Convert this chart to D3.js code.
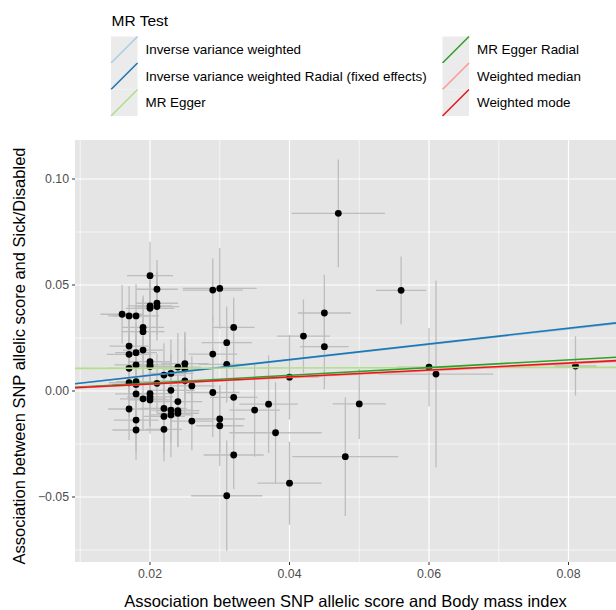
<!DOCTYPE html>
<html>
<head>
<meta charset="utf-8">
<script src="https://cdn.jsdelivr.net/npm/d3@7"></script>
<style>
  body { margin: 0; background: #fff; }
  svg { display: block; font-family: "Liberation Sans", Arial, sans-serif; }
</style>
</head>
<body>
<script>
// SNP effects on exposure (BMI) and outcome (Sick/Disabled)
const betaExposure = [
  0.016,
  0.017, 0.017, 0.017, 0.017, 0.017, 0.017,
  0.018, 0.018, 0.018, 0.018, 0.018, 0.018, 0.018, 0.018,
  0.019, 0.019, 0.019, 0.019,
  0.020, 0.020, 0.020, 0.020, 0.020, 0.020, 0.020, 0.020, 0.020,
  0.021, 0.021, 0.021, 0.021,
  0.022, 0.022, 0.022, 0.022,
  0.023, 0.023, 0.023, 0.023,
  0.024, 0.024, 0.024, 0.024,
  0.025, 0.025, 0.025,
  0.026, 0.026,
  0.029, 0.029, 0.029,
  0.030, 0.030, 0.030,
  0.031, 0.031, 0.031,
  0.032, 0.032, 0.032,
  0.035, 0.037, 0.038,
  0.040, 0.040,
  0.042,
  0.045, 0.045,
  0.047, 0.048, 0.050, 0.056, 0.060, 0.061, 0.081
];
const betaOutcome = [
  0.0362,
  0.0354, 0.0212, 0.0173, 0.0107, 0.0039, -0.0085,
  0.0354, 0.0181, 0.0123, 0.0044, 0.0031, -0.0014, -0.0137, -0.0184,
  0.0300, 0.0280, 0.0193, -0.0037,
  0.0544, 0.0402, 0.0390, 0.0138, 0.0123, 0.0115, -0.0012, -0.0028, -0.0042,
  0.0480, 0.0414, 0.0398, 0.0036,
  0.0075, -0.0082, -0.0120, -0.0181,
  0.0083, 0.0003, -0.0090, -0.0113,
  0.0113, -0.0050, -0.0093, -0.0105,
  0.0129, 0.0104, 0.0048,
  0.0024, -0.0142,
  0.0476, 0.0174, -0.0007,
  0.0484, -0.0132, -0.0164,
  0.0228, 0.0126, -0.0494,
  0.0300, -0.0030, -0.0302,
  -0.0090, -0.0062, -0.0197,
  0.0065, -0.0435,
  0.0259,
  0.0368, 0.0209,
  0.0838, -0.0310, -0.0061, 0.0475, 0.0112, 0.0080, 0.0118
];
const seExposure = [
  0.0031,
  0.0030, 0.0028, 0.0032, 0.0030, 0.0029, 0.0030,
  0.0033, 0.0030, 0.0031, 0.0029, 0.0034, 0.0030, 0.0032, 0.0034,
  0.0030, 0.0031, 0.0029, 0.0033,
  0.0033, 0.0032, 0.0035, 0.0030, 0.0031, 0.0036, 0.0030, 0.0033, 0.0031,
  0.0030, 0.0030, 0.0032, 0.0034,
  0.0031, 0.0033, 0.0030, 0.0026,
  0.0032, 0.0034, 0.0030, 0.0031,
  0.0033, 0.0035, 0.0031, 0.0030,
  0.0034, 0.0032, 0.0036,
  0.0033, 0.0031,
  0.0043, 0.0035, 0.0038,
  0.0053, 0.0036, 0.0034,
  0.0036, 0.0040, 0.0051,
  0.0030, 0.0034, 0.0043,
  0.0036, 0.0042, 0.0066,
  0.0042, 0.0046,
  0.0038,
  0.0038, 0.0035,
  0.0067, 0.0076, 0.0038, 0.0036, 0.0045, 0.0082, 0.0030
];
const seOutcome = [
  0.0138,
  0.0140, 0.0150, 0.0160, 0.0150, 0.0160, 0.0146,
  0.0150, 0.0140, 0.0155, 0.0150, 0.0160, 0.0140, 0.0150, 0.0140,
  0.0150, 0.0160, 0.0140, 0.0150,
  0.0160, 0.0150, 0.0140, 0.0160, 0.0150, 0.0170, 0.0150, 0.0140, 0.0160,
  0.0138, 0.0150, 0.0160, 0.0140,
  0.0150, 0.0160, 0.0170, 0.0150,
  0.0160, 0.0170, 0.0150, 0.0200,
  0.0160, 0.0150, 0.0170, 0.0160,
  0.0150, 0.0170, 0.0160,
  0.0140, 0.0137,
  0.0150, 0.0180, 0.0210,
  0.0190, 0.0160, 0.0190,
  0.0170, 0.0180, 0.0260,
  0.0140, 0.0190, 0.0160,
  0.0220, 0.0230, 0.0240,
  0.0200, 0.0196,
  0.0173,
  0.0180, 0.0200,
  0.0254, 0.0280, 0.0165, 0.0160, 0.0185, 0.0440, 0.0140
];

// MR methods: fitted lines (intercept + slope * x)
const methodNames = [
  "Inverse variance weighted",
  "Inverse variance weighted Radial (fixed effects)",
  "MR Egger",
  "MR Egger Radial",
  "Weighted median",
  "Weighted mode"
];
const methodIntercepts = [0, 0, 0.0106, 0.0001, 0, 0];
const methodSlopes = [0.366, 0.370, 0.0064, 0.182, 0.160, 0.165];

// axis ticks
const xMajorTicks = [0.02, 0.04, 0.06, 0.08];
const xMinorTicks = [0.01, 0.03, 0.05, 0.07];
const yMajorTicks = [-0.05, 0, 0.05, 0.10];
const yMinorTicks = [-0.075, -0.025, 0.025, 0.075];
const yTickLabels = ["\u22120.05", "0.00", "0.05", "0.10"];
const xTickLabels = ["0.02", "0.04", "0.06", "0.08"];

document.addEventListener("DOMContentLoaded", function() {

    /* CONSTANTS */
    const width = 616;
    const height = 610;
    const panel = {left: 75, right: 616, top: 140, bottom: 562};
    const methodColors = ["#A6CEE3", "#1F78B4", "#B2DF8A", "#33A02C", "#FB9A99", "#E31A1C"];
    const errColor = "#bdbdbd";

    const svg = d3.select("body").append("svg")
    .attr("width", width)
    .attr("height", height);

    //Scales are pinned to where the ticks sit in the picture.
    const x = d3.scaleLinear().domain([0.02, 0.08]).range([150, 568.5]);
    const y = d3.scaleLinear().domain([0, 0.10]).range([391, 179]);

    const points = betaExposure.map((bx, i) => ({
        bx: bx, by: betaOutcome[i], sx: seExposure[i], sy: seOutcome[i]
    }));

    /* PANEL */
    svg.append("defs").append("clipPath").attr("id", "clip")
    .append("rect")
    .attr("x", panel.left).attr("y", panel.top)
    .attr("width", panel.right - panel.left).attr("height", panel.bottom - panel.top);

    svg.append("rect")
    .attr("x", panel.left).attr("y", panel.top)
    .attr("width", panel.right - panel.left).attr("height", panel.bottom - panel.top)
    .attr("fill", "#e5e5e5");

    const grid = svg.append("g").attr("clip-path", "url(#clip)");

    grid.selectAll(".xminor").data(xMinorTicks).enter().append("line")
    .attr("x1", (d) => x(d)).attr("x2", (d) => x(d))
    .attr("y1", panel.top).attr("y2", panel.bottom)
    .attr("stroke", "#fff").attr("stroke-width", 0.6);

    grid.selectAll(".yminor").data(yMinorTicks).enter().append("line")
    .attr("y1", (d) => y(d)).attr("y2", (d) => y(d))
    .attr("x1", panel.left).attr("x2", panel.right)
    .attr("stroke", "#fff").attr("stroke-width", 0.6);

    grid.selectAll(".xmajor").data(xMajorTicks).enter().append("line")
    .attr("x1", (d) => x(d)).attr("x2", (d) => x(d))
    .attr("y1", panel.top).attr("y2", panel.bottom)
    .attr("stroke", "#fff").attr("stroke-width", 1.2);

    grid.selectAll(".ymajor").data(yMajorTicks).enter().append("line")
    .attr("y1", (d) => y(d)).attr("y2", (d) => y(d))
    .attr("x1", panel.left).attr("x2", panel.right)
    .attr("stroke", "#fff").attr("stroke-width", 1.2);

    /* ERROR BARS AND POINTS */
    const marks = svg.append("g").attr("clip-path", "url(#clip)");

    marks.selectAll(".vbar").data(points).enter().append("line")
    .attr("x1", (d) => x(d.bx)).attr("x2", (d) => x(d.bx))
    .attr("y1", (d) => y(d.by - d.sy)).attr("y2", (d) => y(d.by + d.sy))
    .attr("stroke", errColor).attr("stroke-width", 1.3);

    marks.selectAll(".hbar").data(points).enter().append("line")
    .attr("y1", (d) => y(d.by)).attr("y2", (d) => y(d.by))
    .attr("x1", (d) => x(d.bx - d.sx)).attr("x2", (d) => x(d.bx + d.sx))
    .attr("stroke", errColor).attr("stroke-width", 1.3);

    marks.selectAll("circle").data(points).enter().append("circle")
    .attr("cx", (d) => x(d.bx)).attr("cy", (d) => y(d.by))
    .attr("r", 3.4)
    .attr("fill", "#000");

    //Method lines span the whole panel, like abline.
    const x0 = x.invert(panel.left);
    const x1 = x.invert(panel.right);
    marks.selectAll(".mline").data(methodNames).enter().append("line")
    .attr("x1", panel.left).attr("x2", panel.right)
    .attr("y1", (d, i) => y(methodIntercepts[i] + methodSlopes[i] * x0))
    .attr("y2", (d, i) => y(methodIntercepts[i] + methodSlopes[i] * x1))
    .attr("stroke", (d, i) => methodColors[i])
    .attr("stroke-width", 1.6);

    /* AXES */
    const axisText = "#4d4d4d";
    const axisTick = "#333";

    svg.selectAll(".ytick").data(yMajorTicks).enter().append("line")
    .attr("x1", panel.left - 3).attr("x2", panel.left)
    .attr("y1", (d) => y(d)).attr("y2", (d) => y(d))
    .attr("stroke", axisTick).attr("stroke-width", 1);

    svg.selectAll(".ylabel").data(yMajorTicks).enter().append("text")
    .attr("x", panel.left - 6)
    .attr("y", (d) => y(d) + 4.3)
    .attr("text-anchor", "end")
    .attr("font-size", "12.3px")
    .attr("fill", axisText)
    .text((d, i) => yTickLabels[i]);

    svg.selectAll(".xtick").data(xMajorTicks).enter().append("line")
    .attr("x1", (d) => x(d)).attr("x2", (d) => x(d))
    .attr("y1", panel.bottom).attr("y2", panel.bottom + 3)
    .attr("stroke", axisTick).attr("stroke-width", 1);

    svg.selectAll(".xlabel").data(xMajorTicks).enter().append("text")
    .attr("x", (d) => x(d))
    .attr("y", panel.bottom + 16)
    .attr("text-anchor", "middle")
    .attr("font-size", "12.3px")
    .attr("fill", axisText)
    .text((d, i) => xTickLabels[i]);

    //Axis titles.
    svg.append("text")
    .attr("x", (panel.left + panel.right) / 2)
    .attr("y", 607)
    .attr("text-anchor", "middle")
    .attr("font-size", "16.5px")
    .attr("fill", "#000")
    .text("Association between SNP allelic score and Body mass index");

    svg.append("text")
    .attr("transform", `translate(25,356) rotate(-90)`)
    .attr("text-anchor", "middle")
    .attr("font-size", "16.5px")
    .attr("fill", "#000")
    .text("Association between SNP allelic score and Sick/Disabled");

    /* LEGEND */
    const legend = svg.append("g").attr("id", "legend");
    const keySize = 26.5;
    const legendTop = 36.5;
    const columnX = [111, 442.5];

    legend.append("text")
    .attr("x", 111.5)
    .attr("y", 26)
    .attr("font-size", "15.5px")
    .attr("fill", "#000")
    .text("MR Test");

    const keys = legend.selectAll(".key").data(methodNames).enter().append("g")
    .attr("transform", (d, i) => `translate(${columnX[Math.floor(i / 3)]},${legendTop + (i % 3) * keySize})`);

    keys.append("rect")
    .attr("width", keySize).attr("height", keySize)
    .attr("fill", "#ebebeb");

    keys.append("line")
    .attr("x1", 0).attr("y1", keySize)
    .attr("x2", keySize).attr("y2", 0)
    .attr("stroke", (d, i) => methodColors[i])
    .attr("stroke-width", 1.6);

    keys.append("text")
    .attr("x", keySize + 8)
    .attr("y", keySize / 2 + 4.6)
    .attr("font-size", "13.4px")
    .attr("fill", "#000")
    .text((d) => d);
});
</script>
</body>
</html>
